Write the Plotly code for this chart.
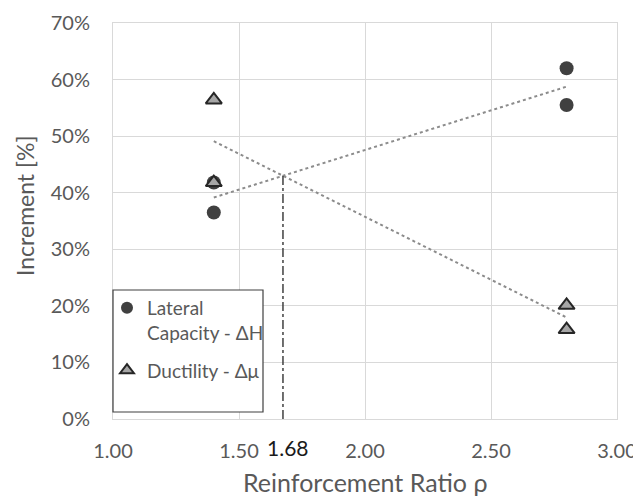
import numpy as np
import plotly.graph_objects as go

# Data
ratio_lateral = [1.4, 1.4, 2.8, 2.8]
inc_lateral = [0.365, 0.418, 0.620, 0.555]
ratio_ductility = [1.4, 1.4, 2.8, 2.8]
inc_ductility = [0.564, 0.418, 0.201, 0.158]
x_ticks = [1.0, 1.5, 2.0, 2.5, 3.0]
y_ticks = [0.0, 0.1, 0.2, 0.3, 0.4, 0.5, 0.6, 0.7]
name_lateral = "Lateral<br>Capacity - ΔH"
name_ductility = "Ductility - Δμ"
marked_ratio_label = "1.68"
x_title = "Reinforcement Ratio ρ"
y_title = "Increment [%]"

# Linear trend lines (least squares, as in the spreadsheet trendline)
p_lat = np.polyfit(ratio_lateral, inc_lateral, 1)
p_duc = np.polyfit(ratio_ductility, inc_ductility, 1)
xr = [min(ratio_lateral), max(ratio_lateral)]
x_int = (p_duc[1] - p_lat[1]) / (p_lat[0] - p_duc[0])
y_int = np.polyval(p_lat, x_int)

FONT = "Lato, 'Open Sans', sans-serif"
GRAY = "#595959"
GRID = "#d9d9d9"

fig = go.Figure()
fig.add_trace(go.Scatter(x=xr, y=np.polyval(p_lat, xr), mode="lines",
                         line=dict(color="#8c8c8c", width=2, dash="dot"),
                         showlegend=False, hoverinfo="skip"))
fig.add_trace(go.Scatter(x=xr, y=np.polyval(p_duc, xr), mode="lines",
                         line=dict(color="#8c8c8c", width=2, dash="dot"),
                         showlegend=False, hoverinfo="skip"))
fig.add_trace(go.Scatter(x=[x_int, x_int], y=[0, y_int], mode="lines",
                         line=dict(color="#404040", width=1.5, dash="dashdot"),
                         showlegend=False, hoverinfo="skip"))
fig.add_trace(go.Scatter(x=ratio_lateral, y=inc_lateral, mode="markers",
                         name=name_lateral, legendgroup="a",
                         marker=dict(symbol="circle", size=14, color="#404040",
                                     line=dict(width=0))))
fig.add_trace(go.Scatter(x=ratio_ductility, y=inc_ductility, mode="markers",
                         name=name_ductility, legendgroup="b",
                         marker=dict(symbol="triangle-up", size=14, color="#a6a6a6",
                                     line=dict(width=2, color="#262626"))))

fig.add_shape(type="rect", xref="paper", yref="paper",
              x0=0.0, x1=150/504, y0=(419-412)/396, y1=(419-290)/396,
              line=dict(color="#404040", width=1.2), fillcolor="white", layer="above")

fig.add_annotation(x=x_int, y=0, xref="x", yref="y", text=marked_ratio_label,
                   showarrow=False, yanchor="top", yshift=-14, xshift=5,
                   font=dict(family=FONT, size=21, color="#1a1a1a"))
fig.add_annotation(x=0.5, y=0, xref="paper", yref="paper", text=x_title,
                   showarrow=False, yanchor="middle", xanchor="center", yshift=-63,
                   font=dict(family=FONT, size=25, color=GRAY))
fig.add_annotation(x=0, y=(419-206)/396, xref="paper", yref="paper", text=y_title,
                   showarrow=False, yanchor="middle", xanchor="center", xshift=-88,
                   textangle=-90,
                   font=dict(family=FONT, size=23, color=GRAY))

# page body has an 8px margin: figure spans the window from (8, 8)
fig.update_layout(
    width=633, height=494,
    margin=dict(l=105, r=24, t=15, b=83),
    paper_bgcolor="white", plot_bgcolor="white",
    font=dict(family=FONT, size=20, color=GRAY),
    showlegend=True,
    legend=dict(x=-6/504, y=(419-289)/396, xanchor="left", yanchor="top",
                bgcolor="rgba(0,0,0,0)", borderwidth=0,
                font=dict(family=FONT, size=19, color=GRAY),
                valign="top", tracegroupgap=10, itemsizing="constant"),
    xaxis=dict(range=[1, 3], tickvals=x_ticks, tickformat=".2f",
               showgrid=True, gridcolor=GRID, gridwidth=1, automargin=False,
               showline=True, linecolor=GRID, mirror=True, zeroline=False,
               ticks="outside", ticklen=14, tickcolor="rgba(0,0,0,0)"),
    yaxis=dict(range=[0, 0.7], tickvals=y_ticks, tickformat=".0%",
               showgrid=True, gridcolor=GRID, gridwidth=1, automargin=False,
               showline=True, linecolor=GRID, mirror=True, zeroline=False,
               ticks="outside", ticklen=18, tickcolor="rgba(0,0,0,0)"),
)

fig.write_html("out.html")
